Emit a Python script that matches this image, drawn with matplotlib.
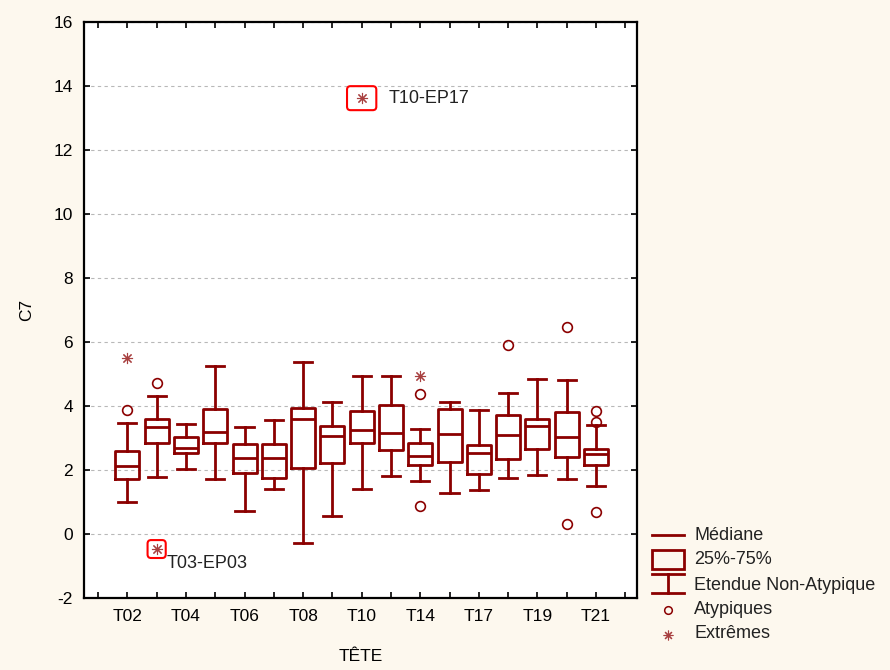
import matplotlib
matplotlib.use("Agg")
import matplotlib.pyplot as plt
from matplotlib.patches import FancyBboxPatch, Rectangle
from matplotlib.lines import Line2D

plt.rcParams['font.family'] = ['Liberation Sans', 'DejaVu Sans']
plt.rcParams['axes.unicode_minus'] = False

# data
cats = ['T02', 'T03', 'T04', 'T05', 'T06', 'T07', 'T08', 'T09', 'T10',
        'T12', 'T14', 'T15', 'T17', 'T18', 'T19', 'T20', 'T21']
med = [2.12, 3.35, 2.69, 3.19, 2.39, 2.37, 3.60, 3.06, 3.25,
       3.15, 2.43, 3.12, 2.54, 3.08, 3.37, 3.04, 2.49]
q1 = [1.73, 2.85, 2.52, 2.85, 1.92, 1.74, 2.07, 2.23, 2.83,
      2.62, 2.16, 2.25, 1.87, 2.33, 2.67, 2.42, 2.16]
q3 = [2.59, 3.60, 3.03, 3.92, 2.81, 2.81, 3.94, 3.37, 3.84,
      4.03, 2.85, 3.90, 2.77, 3.71, 3.58, 3.80, 2.65]
wlo = [1.01, 1.78, 2.04, 1.72, 0.73, 1.41, -0.29, 0.56, 1.41,
       1.81, 1.66, 1.28, 1.36, 1.74, 1.85, 1.73, 1.49]
whi = [3.48, 4.30, 3.44, 5.26, 3.35, 3.56, 5.36, 4.12, 4.95,
       4.95, 3.29, 4.12, 3.86, 4.41, 4.83, 4.80, 3.40]
# atypiques (circles) and extremes (stars): category, value
out_cat = ['T02', 'T03', 'T14', 'T14', 'T18', 'T20', 'T20', 'T21', 'T21', 'T21']
out_val = [3.89, 4.71, 4.39, 0.87, 5.90, 6.47, 0.31, 3.83, 3.51, 0.69]
ext_cat = ['T02', 'T03', 'T10', 'T14']
ext_val = [5.50, -0.47, 13.62, 4.95]
# labelled extremes
lab_cat = ['T03', 'T10']
lab_val = [-0.47, 13.62]
lab_txt = ['T03-EP03', 'T10-EP17']

red = '#8b0000'
star = '#a84040'
bg = '#fdf8ee'

fig = plt.figure(figsize=(8.9, 6.7), dpi=100, facecolor=bg)
ax = fig.add_axes([84/890, 1-598/670, (637-84)/890, (598-22)/670])
ax.set_facecolor('white')

pos = {c: i + 1 for i, c in enumerate(cats)}
stats = []
for i, c in enumerate(cats):
    stats.append(dict(med=med[i], q1=q1[i], q3=q3[i], whislo=wlo[i],
                      whishi=whi[i], fliers=[]))
lp = dict(color=red, lw=2)
ax.bxp(stats, positions=list(range(1, len(cats) + 1)), widths=0.82,
       capwidths=0.62, showfliers=False, boxprops=lp, medianprops=lp,
       whiskerprops=lp, capprops=lp, manage_ticks=False)

ax.plot([pos[c] for c in out_cat], out_val, ls='none', marker='o', ms=7,
        mfc='none', mec=red, mew=1.2)
ax.plot([pos[c] for c in ext_cat], ext_val, ls='none', marker=(8, 2, 0),
        ms=8, mec=star, mew=0.8)

sizes = {'T03': (0.62, 0.56), 'T10': (1.0, 0.75)}
for c, v, t in zip(lab_cat, lab_val, lab_txt):
    w, h = sizes[c]
    ax.add_patch(FancyBboxPatch((pos[c] - w/2, v - h/2), w, h,
                                boxstyle='round,pad=0,rounding_size=0.12',
                                mutation_aspect=0.92, fill=False,
                                ec='#ff0000', lw=1.5, zorder=4))
    if c == 'T03':
        ax.text(pos[c] + 0.33, v - 0.45, t, fontsize=13, va='center',
                ha='left', color='#222222')
    else:
        ax.text(pos[c] + 0.92, v, t, fontsize=13, va='center',
                ha='left', color='#222222')

ax.set_xlim(-0.48, 18.4)
ax.set_ylim(-2, 16)
ax.set_xticks(range(0, 19))
ax.set_xticklabels(['' if (k % 2 == 0) else cats[k - 1] for k in range(19)])
ax.set_yticks(range(-2, 17, 2))
ax.tick_params(direction='in', length=4, width=1.2, top=True, right=True,
               labelsize=12.5, colors='black', pad=8)
ax.yaxis.grid(True, ls=(0, (3, 3)), color='#b8b8b8', lw=0.8)
ax.set_axisbelow(True)
for s in ax.spines.values():
    s.set_linewidth(1.6)
ax.set_xlabel('TÊTE', fontsize=12.5, labelpad=18)
ax.set_ylabel('C7', fontsize=12.5, labelpad=14)

# legend drawn in its own pixel-based axes
lg = fig.add_axes([645/890, 1-650/670, 245/890, 130/670])
lg.set_xlim(645, 890)
lg.set_ylim(650, 520)
lg.axis('off')
lg.add_line(Line2D([652, 684], [535, 535], color=red, lw=2))
lg.add_patch(Rectangle((652, 550), 32, 19, fill=False, ec=red, lw=2))
lg.add_line(Line2D([652, 684], [574, 574], color=red, lw=2))
lg.add_line(Line2D([652, 684], [593, 593], color=red, lw=2))
lg.add_line(Line2D([668, 668], [574, 593], color=red, lw=2))
lg.plot([668], [610], marker='o', ms=5.5, mfc='none', mec=red, mew=1.1)
lg.plot([668], [635], marker=(8, 2, 0), ms=7, mec=star, mew=0.8)
names = ['Médiane', '25%-75%', 'Etendue Non-Atypique', 'Atypiques', 'Extrêmes']
for yy, n in zip([535, 560, 585, 609, 634], names):
    lg.text(694, yy, n, fontsize=13, va='center', ha='left', color='#222222')

fig.savefig('out.png', dpi=100, facecolor=bg)
